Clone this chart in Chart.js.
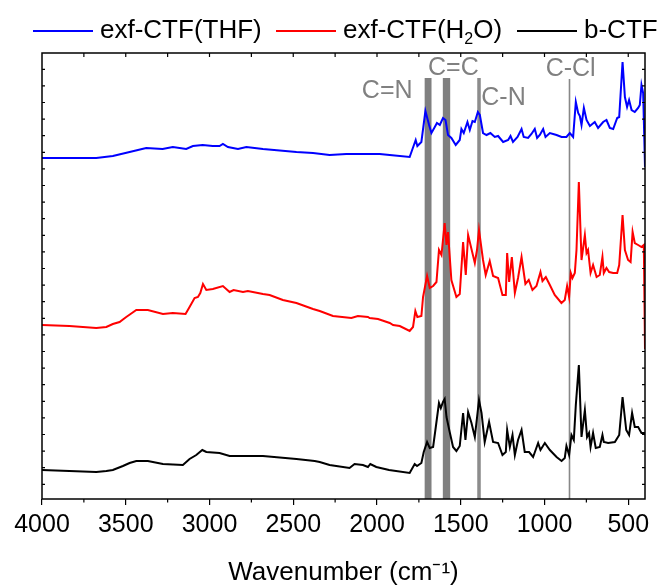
<!DOCTYPE html>
<html>
<head>
<meta charset="utf-8">
<script src="https://cdn.jsdelivr.net/npm/chart.js@4.4.0/dist/chart.umd.min.js"></script>
<style>
  html, body { margin: 0; padding: 0; background: #fff; }
  #wrap { width: 662px; height: 588px; }
</style>
</head>
<body>
<div id="wrap"><canvas id="ftir"></canvas></div>
<script>
// FTIR spectra, wavenumber in cm-1, signal in arbitrary (offset) units
const thfWave = [4000,3836,3676,3577,3477,3378,3280,3219,3139,3099,3041,2981,2940,2920,2890,2860,2830,2780,2681,2481,2382,2283,2183,1984,1924,1805,1769,1759,1735,1711,1689,1675,1655,1642,1625,1606,1591,1576,1556,1530,1506,1496,1482,1460,1446,1430,1416,1398,1386,1367,1346,1323,1297,1277,1247,1217,1203,1188,1161,1137,1124,1098,1078,1058,1044,1028,1008,994,968,928,898,869,849,829,813,799,789,779,765,749,729,700,680,650,630,610,590,566,554,534,520,507,495,480,461,441,431,421,411,400];
const thfSignal = [341,341,341,343,347,351,350,352,350,353,354,353,353,355,352,351,350,352,350,347,346,344,345,345,344,342,359,353,357,388,374,366,372,376,374,381,379,364,361,354,359,370,366,377,369,378,377,387,384,366,364,366,362,363,357,359,363,357,362,370,362,361,365,370,361,364,370,362,366,364,362,362,366,362,397,386,383,374,391,379,373,377,371,377,379,371,370,381,382,437,402,392,399,389,387,391,394,414,406,332];

const waterWave = [4000,3836,3676,3616,3577,3537,3497,3437,3368,3278,3219,3143,3119,3089,3069,3055,3039,3019,2980,2920,2880,2856,2800,2771,2681,2641,2562,2481,2382,2342,2263,2153,2114,2054,2044,1994,1924,1904,1864,1805,1785,1771,1759,1735,1725,1701,1685,1665,1645,1630,1615,1596,1585,1576,1556,1526,1506,1486,1470,1456,1416,1403,1391,1367,1351,1327,1307,1277,1251,1231,1223,1211,1195,1177,1158,1137,1114,1094,1072,1048,1024,1012,992,968,939,899,879,865,853,843,833,819,809,795,779,759,749,740,725,710,689,670,654,646,630,614,590,566,554,534,520,501,486,474,461,441,421,407,400];
const waterSignal = [174,173,171,172,175,177,182,189,189,185,186,185,192,201,202,206,215,209,210,213,207,209,207,208,205,204,199,196,190,188,183,181,183,182,181,180,176,174,173,168,172,188,182,183,202,223,211,213,217,249,244,276,254,267,219,202,205,257,224,264,236,249,269,239,224,238,223,221,204,204,246,217,242,206,221,242,215,219,209,213,227,218,222,214,204,196,199,213,202,226,221,226,249,317,239,264,246,249,226,234,222,224,242,226,231,227,226,226,234,284,249,239,237,267,256,254,252,254,150];

const bulkWave = [4000,3836,3676,3616,3577,3517,3477,3437,3368,3278,3159,3119,3079,3043,3019,2940,2880,2681,2481,2372,2342,2283,2164,2134,2084,2054,2040,2004,1928,1805,1775,1761,1735,1721,1701,1685,1665,1649,1630,1619,1606,1596,1585,1566,1546,1526,1506,1486,1472,1456,1436,1416,1391,1376,1357,1331,1307,1277,1251,1231,1223,1207,1191,1177,1158,1137,1118,1092,1068,1038,1024,998,968,928,898,879,869,853,839,825,813,795,779,759,746,734,725,710,694,670,654,646,620,580,554,534,512,495,477,461,441,421,405,400];
const bulkSignal = [29,28,27,28,29,33,36,38,38,35,34,40,44,49,47,46,43,43,40,38,37,34,31,35,34,32,35,32,29,26,35,33,36,47,57,51,52,72,96,91,97,100,82,67,52,48,53,86,59,87,76,62,99,86,57,77,57,56,44,47,69,52,64,44,59,69,47,47,42,56,49,56,49,42,38,41,53,44,64,59,94,134,62,89,62,66,52,66,51,52,64,57,56,57,64,102,69,64,86,72,72,66,66,64];

const seriesNames = ['exf-CTF(THF)', 'exf-CTF(H₂O)', 'b-CTF'];
const seriesColors = ['#0000ff', '#ff0000', '#000000'];

// marked bands: centre and width in cm-1 (width 0 = single line)
const bandNames = ['C=N', 'C=C', 'C-N', 'C-Cl'];
const bandCenters = [1695, 1585, 1391, 852];
const bandWidths = [41, 44, 21, 0];

const xTickValues = [4000, 3500, 3000, 2500, 2000, 1500, 1000, 500];

const FONT = "'Liberation Sans', Arial, Helvetica, sans-serif";
Chart.defaults.font.family = FONT;

function pairs(xs, ys) {
  return xs.map((x, i) => ({x: x, y: ys[i]}));
}

// band label placement (cm-1, signal units) and bar top
const bandLabelAt = [[1939, 401], [1544, 424], [1245, 394], [844, 423]];
const bandTop = 421;
// legend: left edge of each sample line, px
const legendX = [33, 276, 517];

const decor = {
  id: 'decor',
  beforeDatasetsDraw(chart) {
    const {ctx, chartArea: a, scales: {x, y}} = chart;
    const top = y.getPixelForValue(bandTop);
    ctx.save();
    bandCenters.forEach((c, i) => {
      if (bandWidths[i] > 0) {
        const p0 = x.getPixelForValue(c + bandWidths[i] / 2);
        const p1 = x.getPixelForValue(c - bandWidths[i] / 2);
        ctx.fillStyle = i == 2 ? '#8c8c8c' : '#808080';
        ctx.fillRect(p0, top, p1 - p0, a.bottom - top);
      } else {
        const p = Math.round(x.getPixelForValue(c)) + 0.5;
        ctx.strokeStyle = '#888';
        ctx.lineWidth = 1.6;
        ctx.beginPath();
        ctx.moveTo(p, top + 1);
        ctx.lineTo(p, a.bottom);
        ctx.stroke();
      }
      ctx.fillStyle = '#808080';
      ctx.font = '25px ' + FONT;
      ctx.textAlign = 'center';
      ctx.textBaseline = 'alphabetic';
      ctx.fillText(bandNames[i], x.getPixelForValue(bandLabelAt[i][0]), y.getPixelForValue(bandLabelAt[i][1]));
    });
    ctx.restore();
  },
  afterDraw(chart) {
    const {ctx, chartArea: a, scales: {x, y}} = chart;
    ctx.save();
    ctx.strokeStyle = '#000';
    ctx.lineWidth = 1.5;
    ctx.strokeRect(a.left, a.top, a.right - a.left, a.bottom - a.top);

    ctx.lineWidth = 1.2;
    ctx.beginPath();
    // x: minor ticks out at bottom, all ticks in at top
    for (let w = 3750; w >= 500; w -= 250) {
      const p = x.getPixelForValue(w);
      ctx.moveTo(p, a.top);
      ctx.lineTo(p, a.top + 4);
      if (w % 500 != 0) {
        ctx.moveTo(p, a.bottom);
        ctx.lineTo(p, a.bottom + 3.5);
      }
    }
    // y: inward ticks on both sides
    for (let v = 14.7; v < y.max; v += 16.6) {
      const p = y.getPixelForValue(v);
      ctx.moveTo(a.left, p);
      ctx.lineTo(a.left + 3, p);
      ctx.moveTo(a.right, p);
      ctx.lineTo(a.right - 3, p);
    }
    ctx.stroke();

    // legend
    const ly = 31;
    seriesNames.forEach((name, i) => {
      let lx = legendX[i];
      ctx.strokeStyle = seriesColors[i];
      ctx.lineWidth = 2;
      ctx.beginPath();
      ctx.moveTo(lx, ly);
      ctx.lineTo(lx + 60, ly);
      ctx.stroke();
      lx += 67;
      ctx.fillStyle = '#000';
      ctx.textAlign = 'left';
      ctx.textBaseline = 'middle';
      for (const ch of name) {
        if (ch == '₂') {
          ctx.font = '16px ' + FONT;
          ctx.fillText('2', lx, ly + 9);
          lx += ctx.measureText('2').width;
        } else {
          ctx.font = '26px ' + FONT;
          ctx.fillText(ch, lx, ly);
          lx += ctx.measureText(ch).width;
        }
      }
    });
    ctx.restore();
  }
};

new Chart(document.getElementById('ftir'), {
  type: 'line',
  data: {
    datasets: [
      {label: seriesNames[0], data: pairs(thfWave, thfSignal), borderColor: seriesColors[0]},
      {label: seriesNames[1], data: pairs(waterWave, waterSignal), borderColor: seriesColors[1]},
      {label: seriesNames[2], data: pairs(bulkWave, bulkSignal), borderColor: seriesColors[2]}
    ]
  },
  options: {
    responsive: true,
    maintainAspectRatio: false,
    animation: false,
    events: [],
    elements: {
      line: {borderWidth: 2, tension: 0},
      point: {radius: 0}
    },
    layout: {padding: {top: 53, left: 42, right: 17, bottom: 0}},
    plugins: {
      legend: {display: false},
      tooltip: {enabled: false}
    },
    scales: {
      x: {
        type: 'linear',
        reverse: true,
        min: 400,
        max: 4000,
        afterBuildTicks: scale => {
          scale.ticks = xTickValues.map(v => ({value: v}));
        },
        afterFit: scale => { scale.height = 89; },
        ticks: {
          color: '#000',
          font: {size: 25},
          padding: 5,
          maxRotation: 0,
          autoSkip: false,
          callback: v => String(v)
        },
        grid: {display: true, drawOnChartArea: false, drawTicks: true, tickLength: 6, color: '#000', lineWidth: 1.2},
        border: {display: false},
        title: {
          display: true,
          text: 'Wavenumber (cm⁻¹)',
          color: '#000',
          font: {size: 26},
          padding: {top: 0, bottom: 0}
        }
      },
      y: {
        display: false,
        min: 0,
        max: 446
      }
    }
  },
  plugins: [decor]
});
</script>
</body>
</html>
